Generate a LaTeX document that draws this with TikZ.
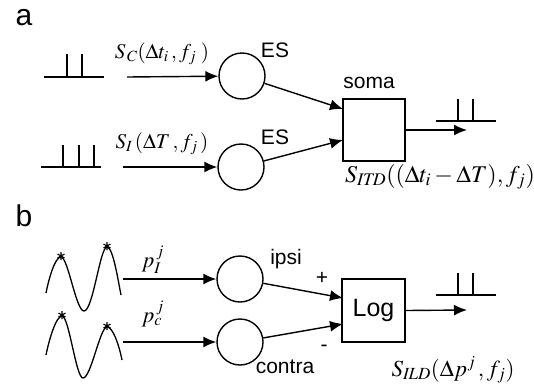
\documentclass[tikz,border=0pt]{standalone}
\usepackage{mathptmx}
\usepackage[no-math]{fontspec}
\newfontfamily\arialf{Liberation Sans}
\usetikzlibrary{arrows.meta}
\begin{document}
\begin{tikzpicture}[x=1pt,y=-1pt,line width=1.4pt,
  arr/.style={-{Latex[length=13pt,width=11pt]}},
  cell/.style={circle,draw,minimum size=46pt,inner sep=0pt},
  box/.style={rectangle,draw,minimum size=62pt,inner sep=0pt},
  panel/.style={font=\arialf\fontsize{30}{34}\selectfont,inner sep=0pt},
  lab/.style={font=\arialf\fontsize{21}{25}\selectfont,inner sep=0pt},
  mlab/.style={inner sep=0pt,anchor=base},
  star/.pic={\draw[line width=1.1pt] (0,-4)--(0,4) (-3.5,-2)--(3.5,2) (-3.5,2)--(3.5,-2);}]
\useasboundingbox (0,0) rectangle (534,386);

% ---------- panel a ----------
\node[panel] (pa) at (24,18) {a};
% input spike trains
\draw (44,77) -- (104,77) (67,77) -- (67,54) (82,77) -- (82,54);
\draw (41,167) -- (101,167) (63,167) -- (63,145) (79,167) -- (79,145) (94,167) -- (94,145);

\node[cell] (c1) at (242,76) {};
\node[cell] (c2) at (241,167) {};
\node[box] (soma) at (374,130) {};

\coordinate (i1) at (127,77);
\coordinate (i2) at (123,167);
\draw[arr] (i1) -- (c1);
\draw[arr] (i2) -- (c2);

\coordinate (s1) at (343,109);
\coordinate (s2) at (343,140);
\draw[arr] (c1) -- (s1);
\draw[arr] (c2) -- (s2);

\coordinate (o1) at (467,130);
\draw[arr] (soma.east) -- (o1);
\draw (436,121) -- (496,121) (458,121) -- (458,99) (473,121) -- (473,99);

\node[lab] (es1) at (275,50) {ES};
\node[lab] (es2) at (275,137) {ES};
\node[lab,anchor=base] (sm) at (369,88) {soma};

\node[mlab,font=\fontsize{21}{25}\selectfont] (lc) at (162,58) {$S_{\,C}(\Delta t_i\,,f_j\;)$};
\node[mlab,font=\fontsize{21}{25}\selectfont] (li) at (162,148) {$S_I\,(\Delta T\,, f_j\,)$};
\node[mlab,font=\fontsize{24}{28}\selectfont] (litd) at (440,182) {$S_{\mathit{ITD}}((\Delta t_i-\Delta T), f_j)$};

% ---------- panel b ----------
\node[panel] (pb) at (24,216) {b};

\draw[line width=1.3pt] (46,293) .. controls (49,278) and (55,257) .. (61,257)
  .. controls (68,257) and (76,311) .. (84,311)
  .. controls (93,311) and (100,247) .. (107,247)
  .. controls (113,247) and (118,280) .. (121,295);
\draw[line width=1.3pt] (46,355) .. controls (49,340) and (56,316) .. (62,316)
  .. controls (69,316) and (76,378) .. (83,378)
  .. controls (91,378) and (100,327) .. (107,327)
  .. controls (113,327) and (119,345) .. (122,360);
\pic at (61,256) {star};
\pic at (107,246) {star};
\pic at (62,315) {star};
\pic at (107,326) {star};

\node[cell] (c3) at (240,279) {};
\node[cell] (c4) at (240,342) {};
\node[box,minimum size=63pt] (lg) at (373.5,310.5) {};
\node[font=\arialf\fontsize{25}{30}\selectfont,inner sep=0pt] (lgt) at (373.5,310) {Log};

\coordinate (i3) at (123,279);
\coordinate (i4) at (123,342);
\draw[arr] (i3) -- (c3);
\draw[arr] (i4) -- (c4);

\coordinate (s3) at (343,298);
\coordinate (s4) at (343,324);
\draw[arr] (c3) -- (s3);
\draw[arr] (c4) -- (s4);

\coordinate (o2) at (467,310);
\draw[arr] (lg.east) -- (o2);
\draw (436,295) -- (496,295) (458,295) -- (458,273) (473,295) -- (473,273);

\node[lab,anchor=base] (ip) at (286,264) {ipsi};
\node[lab,anchor=base] (ct) at (285,373) {contra};
\node[lab] (plus) at (322,278) {+};
\node[lab] (minus) at (324,348) {-};

\node[mlab,font=\fontsize{22}{26}\selectfont] (pI) at (153,267) {$p_I^{\,j}$};
\node[mlab,font=\fontsize{22}{26}\selectfont] (pc) at (153,322) {$p_c^{\,j}$};
\node[mlab,font=\fontsize{23}{27}\selectfont] (lild) at (453,376) {$S_{\mathit{ILD}}(\Delta p^j\,, f_j)$};
\end{tikzpicture}
\end{document}
